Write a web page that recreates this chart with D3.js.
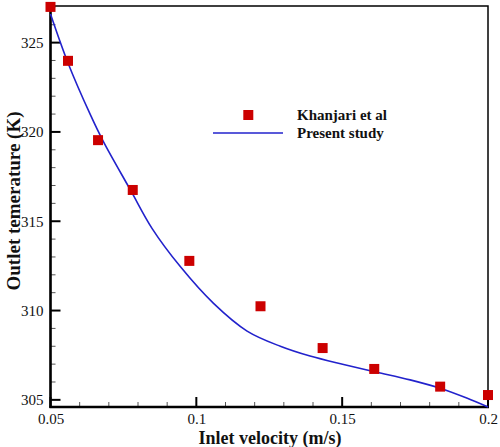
<!DOCTYPE html>
<html><head><meta charset="utf-8">
<script src="https://cdn.jsdelivr.net/npm/d3@7"></script>
<style>body{margin:0;background:#fff}svg{display:block}svg text{font-family:"Liberation Serif","DejaVu Serif",serif}</style>
</head><body>
<svg id="c" width="500" height="447"></svg>
<script>
const expX = [0.05, 0.056, 0.0663, 0.0782, 0.0976, 0.122, 0.1433, 0.161, 0.1836, 0.2];
const expY = [327.0, 323.98, 319.54, 316.75, 312.78, 310.24, 307.9, 306.73, 305.74, 305.27];
const simX = [0.05, 0.056, 0.0637, 0.068, 0.0774, 0.0848, 0.0945, 0.1059, 0.1174, 0.1288, 0.139, 0.1505, 0.1619, 0.1733, 0.1836, 0.1927, 0.2];
const simY = [326.6, 323.86, 320.95, 319.5, 316.75, 314.6, 312.46, 310.4, 308.85, 308.0, 307.45, 306.98, 306.55, 306.12, 305.65, 305.1, 304.6];
const xTicks = [0.05, 0.1, 0.15, 0.2];
const xTickLabels = ["0.05", "0.1", "0.15", "0.2"];
const yTicks = [305, 310, 315, 320, 325];
const yTickLabels = ["305", "310", "315", "320", "325"];
const legendLabels = ["Khanjari et al", "Present study"];

const svg = d3.select("#c");
const L = 50.5, R = 488, T = 6, B = 407;
const x = d3.scaleLinear().domain([0.05, 0.2]).range([L, R]);
const y = d3.scaleLinear().domain([304.6, 327.05]).range([B, T]);

const xMinor = d3.range(0.05, 0.2001, 0.01).filter(v => !xTicks.some(t => Math.abs(t - v) < 1e-6));
const yMinor = d3.range(305, 327.01, 1).filter(v => v % 5 !== 0);

const xAxis = d3.axisBottom(x).tickValues(xTicks).tickFormat((d,i)=>xTickLabels[i]).tickSize(0).tickPadding(6);
const gx = svg.append("g").attr("transform", `translate(0,${B})`).call(xAxis);
gx.select(".domain").remove();
gx.attr("font-family", null);
gx.selectAll("text").attr("font-size", 15).attr("fill", "#111");

const yAxis = d3.axisLeft(y).tickValues(yTicks).tickFormat((d,i)=>yTickLabels[i]).tickSize(0).tickPadding(7);
const gy = svg.append("g").attr("transform", `translate(${L},0)`).call(yAxis);
gy.select(".domain").remove();
gy.attr("font-family", null);
gy.selectAll("text").attr("font-size", 15).attr("fill", "#111");

svg.append("g").selectAll("line").data(xTicks).join("line")
  .attr("x1", d => x(d)).attr("x2", d => x(d)).attr("y1", B).attr("y2", B - 10)
  .attr("stroke", "#000").attr("stroke-width", 2);
svg.append("g").selectAll("line").data(xMinor).join("line")
  .attr("x1", d => x(d)).attr("x2", d => x(d)).attr("y1", B).attr("y2", B - 5)
  .attr("stroke", "#555").attr("stroke-width", 1);
svg.append("g").selectAll("line").data(yTicks).join("line")
  .attr("x1", L).attr("x2", L + 10).attr("y1", d => y(d)).attr("y2", d => y(d))
  .attr("stroke", "#000").attr("stroke-width", 2);
svg.append("g").selectAll("line").data(yMinor).join("line")
  .attr("x1", L).attr("x2", L + 5).attr("y1", d => y(d)).attr("y2", d => y(d))
  .attr("stroke", "#555").attr("stroke-width", 1);

svg.append("rect").attr("x", L).attr("y", T).attr("width", R - L).attr("height", B - T)
  .attr("fill", "none").attr("stroke", "#000").attr("stroke-width", 1.5);
svg.append("line").attr("x1", L).attr("x2", L).attr("y1", T).attr("y2", B + 1).attr("stroke", "#000").attr("stroke-width", 2.5);
svg.append("line").attr("x1", L - 1).attr("x2", R + 1).attr("y1", B).attr("y2", B).attr("stroke", "#000").attr("stroke-width", 2.5);

const simData = simX.map((v, i) => [v, simY[i]]);
svg.append("path").datum(simData)
  .attr("d", d3.line().x(d => x(d[0])).y(d => y(d[1])).curve(d3.curveCatmullRom.alpha(0.5)))
  .attr("fill", "none").attr("stroke", "#2222cc").attr("stroke-width", 1.6);

const sz = 10;
svg.append("g").selectAll("rect").data(expX.map((v, i) => [v, expY[i]])).join("rect")
  .attr("x", d => x(d[0]) - sz / 2).attr("y", d => y(d[1]) - sz / 2)
  .attr("width", sz).attr("height", sz).attr("fill", "#cc0000");

svg.append("rect").attr("x", 248.3 - sz / 2).attr("y", 115 - sz / 2).attr("width", sz).attr("height", sz).attr("fill", "#cc0000");
svg.append("line").attr("x1", 213).attr("x2", 283).attr("y1", 133).attr("y2", 133).attr("stroke", "#2222cc").attr("stroke-width", 1.6);
svg.append("text").attr("x", 297).attr("y", 120).text(legendLabels[0])
  .attr("font-weight", "bold").attr("font-size", 15).attr("fill", "#111");
svg.append("text").attr("x", 297).attr("y", 137.5).text(legendLabels[1])
  .attr("font-weight", "bold").attr("font-size", 15).attr("fill", "#111");

svg.append("text").attr("x", 270).attr("y", 444).attr("text-anchor", "middle")
  .text("Inlet velocity (m/s)").attr("font-weight", "bold").attr("font-size", 18).attr("fill", "#111");
svg.append("text").attr("transform", `translate(20,201) rotate(-90)`).attr("text-anchor", "middle")
  .text("Outlet temerature (K)").attr("font-weight", "bold").attr("font-size", 19).attr("fill", "#111");
</script>
</body></html>
